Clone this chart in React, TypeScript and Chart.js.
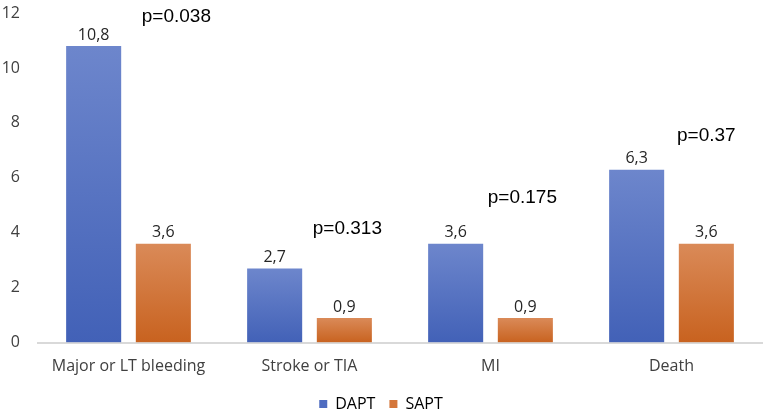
import React, { useEffect, useRef } from "react";
import { Chart, registerables } from "chart.js";

Chart.register(...registerables);

const categories = ["Major or LT bleeding", "Stroke or TIA", "MI", "Death"];
const dapt = [10.8, 2.7, 3.6, 6.3];
const sapt = [3.6, 0.9, 0.9, 3.6];
const pLabels = ["p=0.038", "p=0.313", "p=0.175", "p=0.37"];
const pLevels = [11.85, 4.15, 5.27, 7.53]; // height of the p text, in axis units

const fmt = (v: number) => v.toFixed(1).replace(".", ",");

const App: React.FC = () => {
	const chartRef = useRef<HTMLCanvasElement>(null);

	useEffect(() => {
		document.body.style.margin = "0";
		if (!chartRef.current) return;

		// each bar gets its own top-to-bottom gradient
		const barGradient = (top: string, bottom: string) => (ctx: any) => {
			const chart = ctx.chart;
			const y = chart.scales?.y;
			if (!chart.chartArea || !y || ctx.parsed == null) return bottom;
			const yTop = y.getPixelForValue(ctx.parsed.y);
			const yBase = y.getPixelForValue(0);
			const g = chart.ctx.createLinearGradient(0, yTop, 0, yBase);
			g.addColorStop(0, top);
			g.addColorStop(1, bottom);
			return g;
		};

		const labelPlugin = {
			id: "valueLabels",
			afterDatasetsDraw(chart: any) {
				const { ctx } = chart;
				ctx.save();
				ctx.textAlign = "center";
				ctx.textBaseline = "bottom";
				ctx.fillStyle = "#262626";
				ctx.font = "16px 'Open Sans'";
				chart.data.datasets.forEach((ds: any, di: number) => {
					const meta = chart.getDatasetMeta(di);
					meta.data.forEach((bar: any, i: number) => {
						ctx.fillText(fmt(ds.data[i]), bar.x, bar.y - 3);
					});
				});
				// p-values above the SAPT bars
				const sMeta = chart.getDatasetMeta(1);
				const shift = [13, 3, -3, 0];
				ctx.fillStyle = "#000000";
				ctx.font = "19px 'Liberation Sans'";
				ctx.textBaseline = "middle";
				pLabels.forEach((t, i) => {
					const x = sMeta.data[i].x + shift[i];
					const y = chart.scales.y.getPixelForValue(pLevels[i]);
					ctx.fillText(t, x, y);
				});
				ctx.restore();
			},
		};

		const chart = new Chart(chartRef.current, {
			type: "bar",
			data: {
				labels: categories,
				datasets: [
					{
						label: "DAPT",
						data: dapt,
						backgroundColor: barGradient("#6d86cc", "#4261b7"),
						borderWidth: 0,
						categoryPercentage: 0.77,
						barPercentage: 0.79,
					},
					{
						label: "SAPT",
						data: sapt,
						backgroundColor: barGradient("#da8a58", "#c8621f"),
						borderWidth: 0,
						categoryPercentage: 0.77,
						barPercentage: 0.79,
					},
				],
			},
			options: {
				animation: false,
				responsive: false,
				layout: { padding: { top: 13, right: 3, left: 0, bottom: -9 } },
				scales: {
					x: {
						grid: { display: false },
						border: { display: true, color: "#d9d9d9", width: 2 },
						ticks: {
							color: "#404040",
							font: { family: "'Open Sans'", size: 16 },
							padding: 6,
						},
					},
					y: {
						min: 0,
						max: 12,
						// invisible tick marks only used to push the labels off the plot
						grid: { display: true, drawOnChartArea: false, drawTicks: true, tickLength: 18, color: "rgba(0,0,0,0)" },
						border: { display: false },
						ticks: {
							stepSize: 2,
							color: "#404040",
							font: { family: "'Open Sans'", size: 16 },
							padding: 0,
						},
						afterFit: (s: any) => {
							s.width = 38;
						},
					},
				},
				plugins: {
					legend: {
						position: "bottom",
						labels: {
							boxWidth: 8,
							boxHeight: 8,
							color: "#404040",
							font: { family: "'Open Sans'", size: 16 },
							padding: 14,
							generateLabels: () => [
								{ text: "DAPT", fillStyle: "#4f6cc0", strokeStyle: "#4f6cc0", lineWidth: 0, datasetIndex: 0 },
								{ text: "SAPT", fillStyle: "#d4763a", strokeStyle: "#d4763a", lineWidth: 0, datasetIndex: 1 },
							],
						},
					},
					tooltip: { enabled: false },
				},
			},
			plugins: [labelPlugin],
		});

		return () => {
			chart.destroy();
		};
	}, []);

	return <canvas ref={chartRef} width={765} height={413} style={{ display: "block", width: 765, height: 413 }} />;
};

export default App;
